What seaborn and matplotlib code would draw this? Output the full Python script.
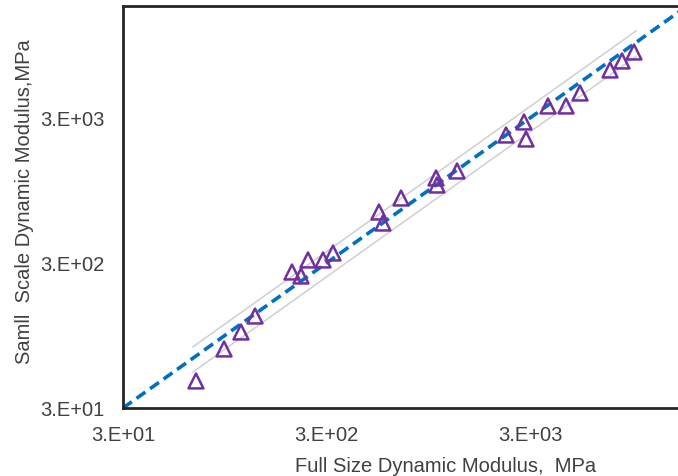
import matplotlib
matplotlib.use("Agg")
import matplotlib.pyplot as plt
import seaborn as sns
import pandas as pd

# Data (MPa)
full_size = [68.5, 94.1, 114, 133.6, 203, 224.8, 243.3, 288.4, 322.9,
             543, 568, 697, 1036, 1047, 1314,
             2287, 2803, 2868, 3678, 4510, 5283, 7420, 8494, 9730]
small_scale = [46.1, 76.6, 100.3, 129.3, 260, 244, 314.8, 314.8, 351.6,
               674, 566, 842, 1157, 1035, 1293,
               2290, 2816, 2149, 3630, 3630, 4462, 6430, 7420, 8555]

# line of equality and +/- band lines
equality_x = [30, 30000]
equality_y = [30, 30000]
band_x = [66, 10000]
band_upper = [79, 12000]
band_lower = [53, 8000]

tick_values = [30, 300, 3000]
tick_labels = ["3.E+01", "3.E+02", "3.E+03"]

sns.set_style("white")
plt.rcParams["font.family"] = ["Liberation Sans", "DejaVu Sans"]

fig = plt.figure(figsize=(6.78, 4.77), dpi=100)
ax = fig.add_axes([123 / 678, 68 / 477, 610.5 / 678, 402 / 477])

df_pts = pd.DataFrame({"x": full_size, "y": small_scale})

sns.lineplot(x=band_x, y=band_upper, ax=ax, color="#CFCFCF", linewidth=1.1, zorder=1)
sns.lineplot(x=band_x, y=band_lower, ax=ax, color="#CFCFCF", linewidth=1.1, zorder=1)
ax.plot(equality_x, equality_y, color="#0070C0", linewidth=2.6,
        dashes=(3.0, 1.6), zorder=2)
sns.scatterplot(data=df_pts, x="x", y="y", ax=ax, marker="^", s=115,
                facecolor="none", edgecolor="#7030A0", linewidth=1.8, zorder=3)

ax.set_xscale("log")
ax.set_yscale("log")
ax.set_xlim(30, 30000)
ax.set_ylim(30, 17760)

ax.set_xticks(tick_values)
ax.set_xticklabels(tick_labels)
ax.set_yticks(tick_values)
ax.set_yticklabels(tick_labels)
ax.minorticks_off()

ax.tick_params(axis="both", which="major", direction="out", length=4,
               width=1, color="#404040", labelsize=14.5, labelcolor="#404040")
ax.tick_params(axis="x", pad=8)
ax.tick_params(axis="y", pad=9)

for side in ["left", "bottom", "top"]:
    ax.spines[side].set_visible(True)
    ax.spines[side].set_color("#262626")
    ax.spines[side].set_linewidth(2)
ax.spines["right"].set_visible(False)

ax.set_xlabel("Full Size Dynamic Modulus,  MPa", fontsize=14.5, color="#404040")
ax.set_ylabel("Samll  Scale Dynamic Modulus,MPa", fontsize=14.5, color="#404040")
ax.xaxis.set_label_coords(0.529, -0.142)
ax.xaxis.label.set_va("center")
ax.yaxis.set_label_coords(-0.162, 0.515)
ax.yaxis.label.set_va("center")

fig.savefig("out.png", dpi=100)
